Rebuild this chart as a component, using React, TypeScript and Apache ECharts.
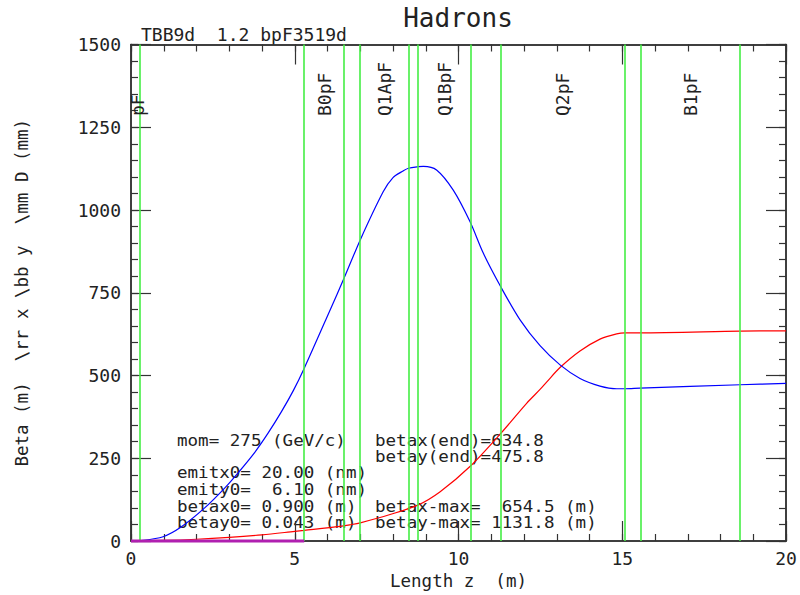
import React, { useEffect, useRef } from "react";
import * as echarts from "echarts";

// ---- data ----
const betaxZ = [0, 1, 2, 3, 4, 5, 5.29, 6.38, 6.69, 7.0, 7.91, 8.77, 9.44, 10.35, 11.29, 12.08, 12.49, 12.69, 13.1, 13.71, 14.32, 14.83, 15.08, 15.54, 18.6, 20];
const betaxV = [0.9, 2, 5.3, 11, 18.7, 29, 32, 44, 49, 55, 80, 109, 149, 225, 325, 416, 458, 480, 524, 574, 610, 626, 629, 629, 634, 635];

const betayZ = [0, 0.27, 0.98, 1.54, 2.25, 2.86, 3.27, 3.78, 4.18, 4.59, 4.96, 5.29, 6.08, 6.51, 7.01, 7.7, 8.0, 8.31, 8.47, 8.77, 8.93, 9.33, 9.84, 10.35, 10.76, 11.29, 11.88, 12.49, 13.1, 13.71, 14.32, 14.83, 15.08, 15.54, 18.6, 20];
const betayV = [0, 1, 13, 43, 100, 160, 206, 268, 325, 390, 455, 522, 698, 795, 912, 1055, 1098, 1118, 1126, 1131, 1132, 1121, 1060, 965, 869, 768, 668, 590, 532, 491, 468, 460, 460, 462, 472, 476];

const dispZ = [0, 5.29];
const dispV = [0, 0];

const elementEdges = [0.27, 5.29, 6.5, 6.99, 8.48, 8.75, 10.37, 11.28, 15.08, 15.57, 18.6];
const elementNames = ["pF", "B0pF", "Q1ApF", "Q1BpF", "Q2pF", "B1pF"];
const elementLabelZ = [0.2, 5.9, 7.74, 9.56, 13.18, 17.09];
const elementLabelBeta = 1284;

const titleText = "Hadrons";
const subtitleText = "TBB9d  1.2 bpF3519d";
const xName = "Length z  (m)";
const yName = "Beta (m)  \\rr x \\bb y  \\mm D (mm)";
const infoLeft = ["mom= 275 (GeV/c)", "", "emitx0= 20.00 (nm)", "emity0=  6.10 (nm)", "betax0= 0.900 (m)", "betay0= 0.043 (m)"];
const infoRight = ["betax(end)=634.8", "betay(end)=475.8", "", "", "betax-max=  654.5 (m)", "betay-max= 1131.8 (m)"];

const FONT = "DejaVu Sans Mono";
const TXT = "#222";
const AX = "#333";

export default function App() {
  const ref = useRef<HTMLDivElement>(null);
  useEffect(() => {
    if (!ref.current) return;
    const chart = echarts.init(ref.current, undefined, { renderer: "svg" });
    const axisLine = { show: true, onZero: false, lineStyle: { color: AX, width: 1.5 } };
    const makeAxis = (
      kind: "x" | "y",
      position: string,
      interval: number,
      len: number,
      extra: any = {}
    ) => ({
      type: "value",
      min: 0,
      max: kind === "x" ? 20 : 1500,
      interval,
      position,
      axisLine,
      axisTick: { show: true, inside: true, length: len, lineStyle: { color: AX, width: 1.2 } },
      splitLine: { show: false },
      axisLabel: { show: false },
      ...extra,
    });
    const lineYs = [441, 457, 473, 490, 507, 523];
    const graphics: any[] = [];
    graphics.push({ type: "text", x: 458, y: 18, style: { text: titleText, fontFamily: FONT, fontSize: 26, fill: TXT, align: "center", verticalAlign: "middle" } });
    graphics.push({ type: "text", x: 141, y: 34, style: { text: subtitleText, fontFamily: FONT, fontSize: 18, fill: TXT, align: "left", verticalAlign: "middle" } });
    infoLeft.forEach((t, i) => {
      if (t) graphics.push({ type: "text", x: 177, y: lineYs[i], scaleX: 1.17, style: { text: t, fontFamily: FONT, fontSize: 15, fill: TXT, align: "left", verticalAlign: "middle" } });
    });
    infoRight.forEach((t, i) => {
      if (t) graphics.push({ type: "text", x: 375, y: lineYs[i], scaleX: 1.17, style: { text: t, fontFamily: FONT, fontSize: 15, fill: TXT, align: "left", verticalAlign: "middle" } });
    });

    const option: any = {
      animation: false,
      backgroundColor: "#ffffff",
      grid: { left: 131, right: 14, top: 44.5, bottom: 54, containLabel: false },
      xAxis: [
        makeAxis("x", "bottom", 5, 20, {
          axisLabel: { show: true, fontFamily: FONT, fontSize: 18, color: TXT, margin: 8 },
          name: xName, nameLocation: "middle", nameGap: 31,
          nameTextStyle: { fontFamily: FONT, fontSize: 17.5, color: TXT },
        }),
        makeAxis("x", "bottom", 1, 7),
        makeAxis("x", "top", 5, 20),
        makeAxis("x", "top", 1, 7),
      ],
      yAxis: [
        makeAxis("y", "left", 250, 20, {
          axisLabel: { show: true, fontFamily: FONT, fontSize: 18, color: TXT, margin: 10, formatter: (v: number) => String(v) },
          name: yName, nameLocation: "middle", nameGap: 100, nameRotate: 90,
          nameTextStyle: { fontFamily: FONT, fontSize: 17.5, color: TXT },
        }),
        makeAxis("y", "left", 50, 7),
        makeAxis("y", "right", 250, 20),
        makeAxis("y", "right", 50, 7),
      ],
      series: [
        {
          type: "line", name: "disp", data: dispZ.map((z, i) => [z, dispV[i]]),
          showSymbol: false, clip: false, lineStyle: { color: "#b020b0", width: 3 }, z: 6,
        },
        {
          type: "line", name: "betax", data: betaxZ.map((z, i) => [z, betaxV[i]]),
          showSymbol: false, smooth: 0.3, lineStyle: { color: "#ff0000", width: 1.2 }, z: 4,
          markLine: {
            silent: true, symbol: "none", animation: false,
            label: { show: false },
            lineStyle: { color: "#44ee44", width: 1.6, type: "solid" },
            data: elementEdges.map((z) => ({ xAxis: z })),
          },
        },
        {
          type: "line", name: "betay", data: betayZ.map((z, i) => [z, betayV[i]]),
          showSymbol: false, smooth: 0.3, lineStyle: { color: "#0000ff", width: 1.2 }, z: 4,
        },
        {
          type: "scatter", name: "elements", symbolSize: 0, itemStyle: { opacity: 1 },
          data: elementLabelZ.map((z, i) => [z, elementLabelBeta, elementNames[i]]),
          label: {
            show: true, position: "inside", rotate: 90, align: "left", verticalAlign: "middle",
            formatter: (p: any) => p.data[2], fontFamily: FONT, fontSize: 18, color: TXT,
          },
          z: 5,
        },
      ],
      graphic: graphics,
    };
    chart.setOption(option);
    return () => chart.dispose();
  }, []);
  return <div ref={ref} style={{ position: "fixed", left: 0, top: 0, width: 800, height: 595, background: "#fff" }} />;
}
